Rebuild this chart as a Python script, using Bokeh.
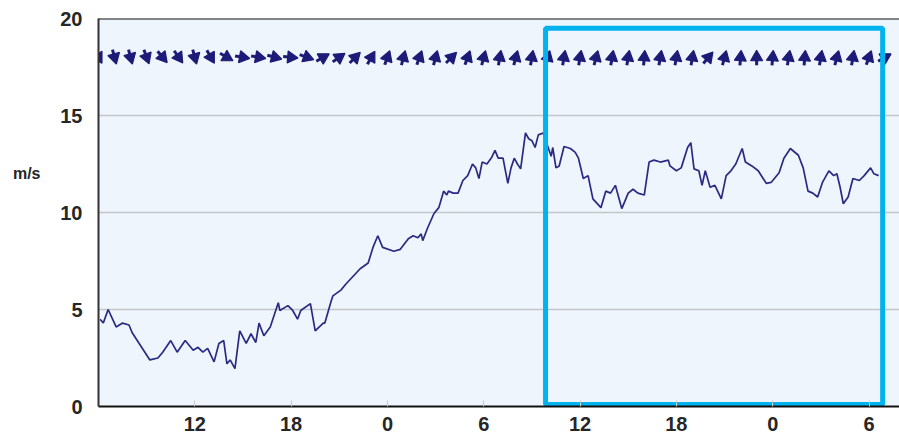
from bokeh.plotting import figure
from bokeh.models import Range1d, FixedTicker, Span, LinearAxis, ColumnDataSource
from bokeh.embed import file_html
from bokeh.resources import INLINE
import numpy as np

# Time axis in hours counted from midnight of the first day
tick_hours = [12, 18, 24, 30, 36, 42, 48, 54]
tick_labels = ["12", "18", "0", "6", "12", "18", "0", "6"]
y_ticks = [0, 5, 10, 15, 20]
unit_label = "m/s"

# Wind speed (m/s)
speed_hours = [
    6.1, 6.3, 6.6, 7.1, 7.5, 7.9, 8.1, 9.2, 9.7, 10.0, 10.5, 10.9, 11.4, 11.9,
    12.2, 12.5, 12.8, 13.2, 13.5, 13.8, 14.0, 14.2, 14.5, 14.8, 15.2, 15.5,
    15.8, 16.0, 16.3, 16.7, 17.2, 17.3, 17.8, 18.1, 18.4, 18.6, 19.2, 19.5,
    20.0, 20.1, 20.5, 20.6, 21.1, 21.4, 22.3, 22.8, 23.1, 23.4, 23.7, 24.4,
    24.8, 25.3, 25.6, 25.9, 26.1, 26.2, 26.5, 26.9, 27.2, 27.5, 27.7, 27.8,
    28.1, 28.4, 28.7, 29.0, 29.3, 29.5, 29.7, 29.9, 30.2, 30.5, 30.7, 30.9,
    31.2, 31.5, 31.7, 31.9, 32.1, 32.3, 32.6, 32.8, 33.0, 33.2, 33.4, 33.7,
    34.2, 34.3, 34.5, 34.7, 35.0, 35.4, 35.7, 35.9, 36.2, 36.5, 36.8, 37.3,
    37.6, 37.9, 38.2, 38.4, 38.6, 39.0, 39.3, 39.6, 40.0, 40.3, 40.6, 41.0,
    41.5, 41.6, 42.0, 42.3, 42.7, 42.9, 43.1, 43.4, 43.6, 43.8, 44.1, 44.4,
    44.8, 45.1, 45.4, 45.7, 46.1, 46.3, 46.7, 47.1, 47.6, 47.9, 48.4, 48.7,
    49.1, 49.6, 49.9, 50.2, 50.5, 50.8, 51.1, 51.5, 51.8, 52.0, 52.2, 52.4,
    52.7, 53.0, 53.4, 53.7, 54.1, 54.3, 54.6,
]
speed_values = [
    4.5, 4.3, 5.0, 4.1, 4.3, 4.2, 3.8, 2.4, 2.5, 2.8, 3.4, 2.8, 3.4, 2.9,
    3.05, 2.8, 3.0, 2.3, 3.25, 3.4, 2.2, 2.4, 1.95, 3.9, 3.25, 3.75,
    3.3, 4.3, 3.65, 4.1, 5.35, 4.95, 5.2, 4.95, 4.5, 4.95, 5.3, 3.9,
    4.3, 4.3, 5.45, 5.7, 6.0, 6.3, 7.1, 7.4, 8.2, 8.8, 8.2, 8.0,
    8.1, 8.65, 8.8, 8.7, 8.9, 8.55, 9.2, 9.95, 10.25, 11.1, 10.9, 11.1,
    11.0, 11.0, 11.65, 11.9, 12.5, 12.3, 11.75, 12.6, 12.5, 12.85, 13.2, 12.8,
    12.8, 11.5, 12.3, 12.8, 12.5, 12.25, 14.1, 13.8, 13.7, 13.35, 14.0, 14.1,
    12.9, 13.35, 12.3, 12.4, 13.4, 13.3, 13.1, 12.8, 11.75, 11.9, 10.7, 10.25,
    11.1, 11.0, 11.4, 10.8, 10.2, 11.0, 11.2, 11.0, 10.9, 12.6, 12.7, 12.6,
    12.7, 12.4, 12.15, 12.3, 13.35, 13.6, 12.25, 12.15, 11.4, 12.15, 11.3, 11.4,
    10.7, 11.9, 12.15, 12.5, 13.3, 12.6, 12.4, 12.15, 11.5, 11.55, 12.05, 12.8,
    13.3, 12.95, 12.3, 11.1, 11.0, 10.8, 11.55, 12.15, 11.9, 12.0, 11.3, 10.45,
    10.8, 11.75, 11.65, 11.9, 12.3, 12.0, 11.9,
]

# Hourly wind direction (compass bearing the arrow points to, degrees)
dir_hours = list(range(6, 56))
dir_degrees = [
    150, 165, 165, 160, 140, 145, 165, 150, 120, 100,
    100, 105, 95, 110, 60, 55, 45, 30, 20, 15,
    20, 15, 45, 20, 15, 10, 15, 10, 15, 10,
    10, 15, 10, 10, 5, 10, 10, 10, 40, 15,
    5, 0, 5, 10, 5, 10, 15, 10, 20, 60,
]
dir_level = 18

# Forecast window
forecast_start = 33.85
forecast_end = 54.85
forecast_bottom = 0.1
forecast_top = 19.5

FONT = "Liberation Sans"
NAVY = "#1c1c78"
TEXT = "#262626"

p = figure(
    width=899, height=437,
    x_range=Range1d(6, 55.9), y_range=Range1d(0, 20),
    output_backend="svg", toolbar_location=None,
    min_border_left=98, min_border_right=0, min_border_top=18, min_border_bottom=31,
)
p.background_fill_color = "#eef5fd"
p.border_fill_color = "white"
p.outline_line_color = None

p.xgrid.grid_line_color = None
p.ygrid.grid_line_color = "#c4c6c8"
p.ygrid.grid_line_width = 1.5
p.ygrid.ticker = FixedTicker(ticks=[5, 10, 15])

p.xaxis.ticker = FixedTicker(ticks=tick_hours)
p.xaxis.major_label_overrides = {h: t for h, t in zip(tick_hours, tick_labels)}
p.xaxis.minor_tick_line_color = None
p.xaxis.major_tick_in = 6
p.xaxis.major_tick_out = 0
p.xaxis.major_tick_line_color = "#c8c8c8"
p.xaxis.axis_line_color = "#111111"
p.xaxis.axis_line_width = 2
p.xaxis.major_label_standoff = 10

p.yaxis.ticker = FixedTicker(ticks=y_ticks)
p.yaxis.minor_tick_line_color = None
p.yaxis.major_tick_line_color = None
p.yaxis.major_tick_out = 0
p.yaxis.axis_line_color = "#333333"
p.yaxis.axis_line_width = 2
p.yaxis.major_label_standoff = 16

for ax in (p.xaxis, p.yaxis):
    ax.major_label_text_font = FONT
    ax.major_label_text_font_style = "bold"
    ax.major_label_text_font_size = "20px"
    ax.major_label_text_color = TEXT

# unit caption, placed as a one-tick axis left of the value axis
unit_axis = LinearAxis(
    ticker=FixedTicker(ticks=[12]),
    major_label_overrides={12: unit_label},
    axis_line_color=None,
    major_tick_line_color=None,
    minor_tick_line_color=None,
    major_tick_out=0,
    major_tick_in=0,
    major_label_standoff=17,
    major_label_text_font=FONT,
    major_label_text_font_style="bold",
    major_label_text_font_size="16px",
    major_label_text_color=TEXT,
)
p.add_layout(unit_axis, "left")

# top frame line
p.add_layout(Span(location=20, dimension="width", line_color="#111111", line_width=2))

# wind speed trace
p.line(speed_hours, speed_values, line_color="#2a2a82", line_width=1.7)

# wind direction arrows: tail + head
rad = np.radians(dir_degrees)
arrows = ColumnDataSource(dict(
    x=dir_hours,
    y=[dir_level] * len(dir_hours),
    head_angle=list(-rad),
    tail_angle=list(-np.pi / 2 - rad),
))
p.ray(x="x", y="y", length=8, length_units="screen", angle="tail_angle",
      source=arrows, line_color=NAVY, line_width=3)
p.scatter(x="x", y="y", marker="triangle", size=12, angle="head_angle",
          source=arrows, fill_color=NAVY, line_color=NAVY, line_width=1.2)

# forecast window frame
p.quad(left=[forecast_start], right=[forecast_end], bottom=[forecast_bottom],
       top=[forecast_top], fill_alpha=0, line_color="#00b2ee", line_width=5)

open("out.html", "w").write(file_html(p, INLINE))
